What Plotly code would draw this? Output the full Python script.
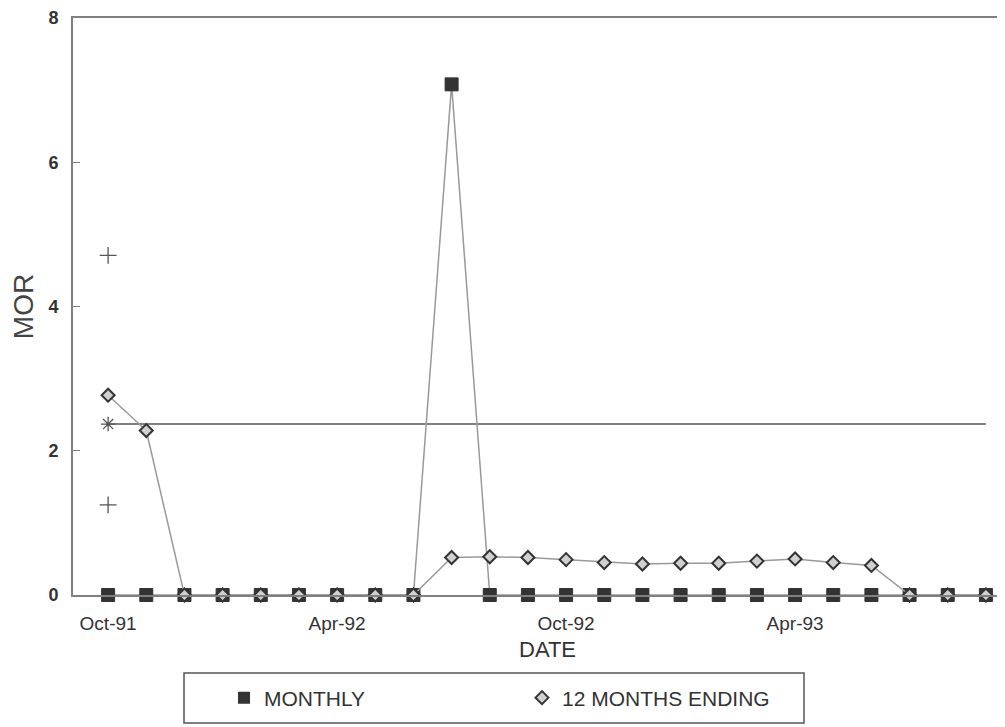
import plotly.graph_objects as go

# --- datos ---
months = ["Oct-91", "Nov-91", "Dec-91", "Jan-92", "Feb-92", "Mar-92",
          "Apr-92", "May-92", "Jun-92", "Jul-92", "Aug-92", "Sep-92",
          "Oct-92", "Nov-92", "Dec-92", "Jan-93", "Feb-93", "Mar-93",
          "Apr-93", "May-93", "Jun-93", "Jul-93", "Aug-93", "Sep-93"]

monthly = [0, 0, 0, 0, 0, 0, 0, 0, 0, 7.08, 0, 0,
           0, 0, 0, 0, 0, 0, 0, 0, 0, 0, 0, 0]

twelve_months = [2.77, 2.28, 0, 0, 0, 0, 0, 0, 0, 0.52, 0.53, 0.52,
                 0.49, 0.45, 0.43, 0.44, 0.44, 0.47, 0.50, 0.45, 0.41, 0, 0, 0]

mean_value = 2.37
mean_line = [mean_value] * len(months)
limit_points = [4.71, 1.25]

tick_labels = ["Oct-91", "Apr-92", "Oct-92", "Apr-93"]

LINE = "#999999"
DARK = "#333333"
FONT = "Liberation Sans, Arial, sans-serif"

# la pagina tiene 8 px de margen en el body: se descuentan aqui
PAGE_OFF = 8
PLOT_L, PLOT_T, PLOT_W, PLOT_H = 73, 18, 932, 577


def px_to_paper(x=None, y=None):
    # convierte pixeles de la pagina a coordenadas paper
    if x is not None:
        return (x - PLOT_L) / PLOT_W
    return (PLOT_T + PLOT_H - y) / PLOT_H


fig = go.Figure()

# linea media
fig.add_trace(go.Scatter(
    x=months, y=mean_line, mode="lines",
    line=dict(color="#808080", width=2), showlegend=False, hoverinfo="skip"
))
fig.add_trace(go.Scatter(
    x=[months[0]], y=[mean_value], mode="markers",
    marker=dict(symbol="asterisk-open", size=12, color="#555",
                line=dict(color="#555", width=1.3)),
    showlegend=False, hoverinfo="skip", cliponaxis=False
))
fig.add_trace(go.Scatter(
    x=[months[0]] * len(limit_points), y=limit_points, mode="markers",
    marker=dict(symbol="cross-thin-open", size=12, color="#555",
                line=dict(color="#555", width=1.3)),
    showlegend=False, hoverinfo="skip", cliponaxis=False
))

fig.add_trace(go.Scatter(
    x=months, y=monthly, mode="lines+markers", name="MONTHLY",
    line=dict(color=LINE, width=1.5),
    marker=dict(symbol="square", size=13, color=DARK, line=dict(color=DARK, width=1)),
    showlegend=False, cliponaxis=False
))

fig.add_trace(go.Scatter(
    x=months, y=twelve_months, mode="lines+markers", name="12 MONTHS ENDING",
    line=dict(color=LINE, width=1.5),
    marker=dict(symbol="diamond", size=10, color="#d0d0d0", line=dict(color=DARK, width=2)),
    showlegend=False, cliponaxis=False
))

# entradas de leyenda solo con marcador
fig.add_trace(go.Scatter(
    x=[None], y=[None], mode="markers", name="MONTHLY",
    marker=dict(symbol="square", size=12, color=DARK)
))
fig.add_trace(go.Scatter(
    x=[None], y=[None], mode="markers", name="12 MONTHS ENDING",
    marker=dict(symbol="diamond", size=10, color="#d0d0d0", line=dict(color=DARK, width=2))
))

# caja de la leyenda
fig.add_shape(
    type="rect", xref="paper", yref="paper",
    x0=px_to_paper(x=184), x1=px_to_paper(x=804),
    y0=px_to_paper(y=723), y1=px_to_paper(y=673),
    line=dict(color="#555", width=1.5), fillcolor="rgba(0,0,0,0)"
)

fig.add_annotation(
    text="DATE", xref="paper", yref="paper",
    x=px_to_paper(x=547), y=px_to_paper(y=649),
    xanchor="center", yanchor="middle", showarrow=False,
    font=dict(size=22, color=DARK)
)

fig.update_layout(
    width=1005 - PAGE_OFF, height=727 - PAGE_OFF,
    margin=dict(l=PLOT_L - PAGE_OFF, r=0, t=PLOT_T - PAGE_OFF,
                b=727 - PLOT_T - PLOT_H),
    paper_bgcolor="white", plot_bgcolor="white",
    font=dict(family=FONT, color=DARK),
    legend=dict(
        orientation="h", x=px_to_paper(x=224), xanchor="left",
        y=px_to_paper(y=698), yanchor="middle",
        entrywidth=253, entrywidthmode="pixels",
        font=dict(size=21, color=DARK), bgcolor="rgba(0,0,0,0)"
    ),
    xaxis=dict(
        type="category", categoryorder="array", categoryarray=months,
        range=[-0.92, 23.5],
        tickvals=tick_labels, ticktext=tick_labels,
        ticks="", showgrid=False, zeroline=False,
        showline=True, linecolor="#808080", linewidth=2, mirror=True,
        tickfont=dict(size=19, color=DARK), ticklabelstandoff=10
    ),
    yaxis=dict(
        range=[0, 8], tickvals=[0, 2, 4, 6, 8],
        ticks="inside", ticklen=7, tickcolor="#808080",
        showgrid=False, zeroline=False,
        showline=True, linecolor="#808080", linewidth=2,
        tickfont=dict(size=18, color=DARK, weight="bold"), ticklabelstandoff=9,
        title=dict(text="MOR", font=dict(size=28, color="#444"), standoff=12)
    ),
)

fig.write_html("out.html")
